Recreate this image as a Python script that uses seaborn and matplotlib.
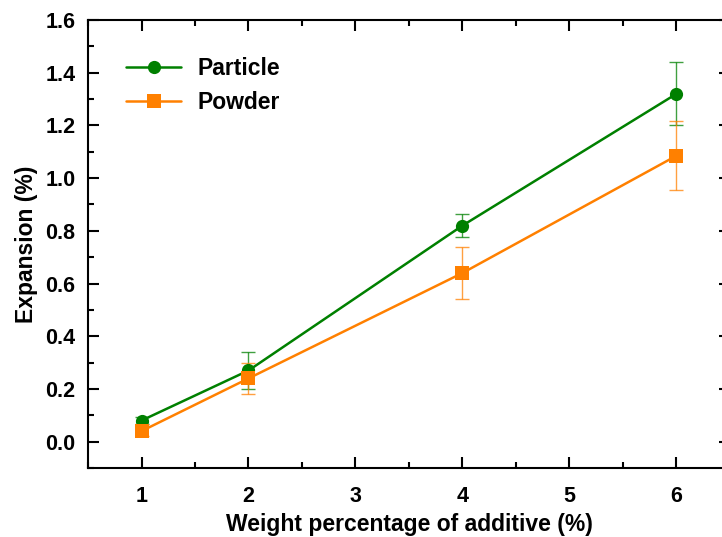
import matplotlib
matplotlib.use("Agg")
import matplotlib.pyplot as plt
import seaborn as sns
import pandas as pd
from matplotlib.ticker import MultipleLocator

weights = [1, 2, 4, 6]
particle = [0.08, 0.27, 0.82, 1.32]
particle_err = [0.012, 0.07, 0.043, 0.12]
powder = [0.04, 0.24, 0.64, 1.085]
powder_err = [0.02, 0.06, 0.10, 0.13]
series_names = ["Particle", "Powder"]
colors = ["#008000", "#FF8000"]
markers = ["o", "s"]

sns.set_theme(style="ticks")
plt.rcParams['font.family'] = ['Liberation Sans', 'DejaVu Sans']
plt.rcParams['font.weight'] = 'bold'
plt.rcParams['text.color'] = 'black'
plt.rcParams['axes.labelcolor'] = 'black'
plt.rcParams['xtick.color'] = 'black'
plt.rcParams['ytick.color'] = 'black'

df = pd.DataFrame({
    "x": weights * 2,
    "y": particle + powder,
    "err": particle_err + powder_err,
    "series": [series_names[0]] * len(weights) + [series_names[1]] * len(weights),
})

fig = plt.figure(figsize=(7.22, 5.37), dpi=100)
ax = fig.add_axes([88/722, (537-468)/537, 642/722, 448/537])

for name, c, m in zip(series_names, colors, markers):
    sub = df[df["series"] == name]
    ax.errorbar(sub["x"], sub["y"], yerr=sub["err"], fmt="none", ecolor=c,
                elinewidth=1.0, capsize=5, capthick=1.0, alpha=0.75, zorder=2)

sns.lineplot(data=df, x="x", y="y", hue="series", style="series",
             palette=dict(zip(series_names, colors)),
             markers=dict(zip(series_names, markers)), dashes=False,
             markersize=9.5, markeredgewidth=0, linewidth=1.8, ax=ax, zorder=3)

yt = [0.0, 0.2, 0.4, 0.6, 0.8, 1.0, 1.2, 1.4, 1.6]
ax.set_xlim(0.5, 6.5)
ax.set_ylim(-0.1, 1.6)
ax.set_xticks([1, 2, 3, 4, 5, 6])
ax.set_yticks(yt)
ax.set_yticklabels([f"{v:.1f}" for v in yt])
ax.xaxis.set_minor_locator(MultipleLocator(0.5))
ax.yaxis.set_minor_locator(MultipleLocator(0.1))
ax.tick_params(which="both", direction="in", top=True, right=True, width=1.5,
               colors="black", labelcolor="black")
ax.tick_params(which="major", length=8, labelsize=15.5)
ax.tick_params(axis="x", which="major", pad=13)
ax.tick_params(axis="y", which="major", pad=9)
ax.tick_params(which="minor", length=4)
for lab in ax.get_xticklabels() + ax.get_yticklabels():
    lab.set_fontweight("bold")
for s in ax.spines.values():
    s.set_linewidth(1.5)
    s.set_color("black")

ax.set_xlabel("Weight percentage of additive (%)", fontsize=16.5, fontweight="bold",
              labelpad=4, color="black")
ax.set_ylabel("Expansion (%)", fontsize=16.5, fontweight="bold", labelpad=5, color="black")

leg = ax.legend(loc="upper left", frameon=False, fontsize=16.5, handlelength=2.4,
                borderaxespad=0.0, bbox_to_anchor=(0.045, 0.937), handletextpad=0.7,
                labelspacing=0.45)
for t in leg.get_texts():
    t.set_fontweight("bold")
    t.set_color("black")

fig.savefig("out.png", dpi=100)
